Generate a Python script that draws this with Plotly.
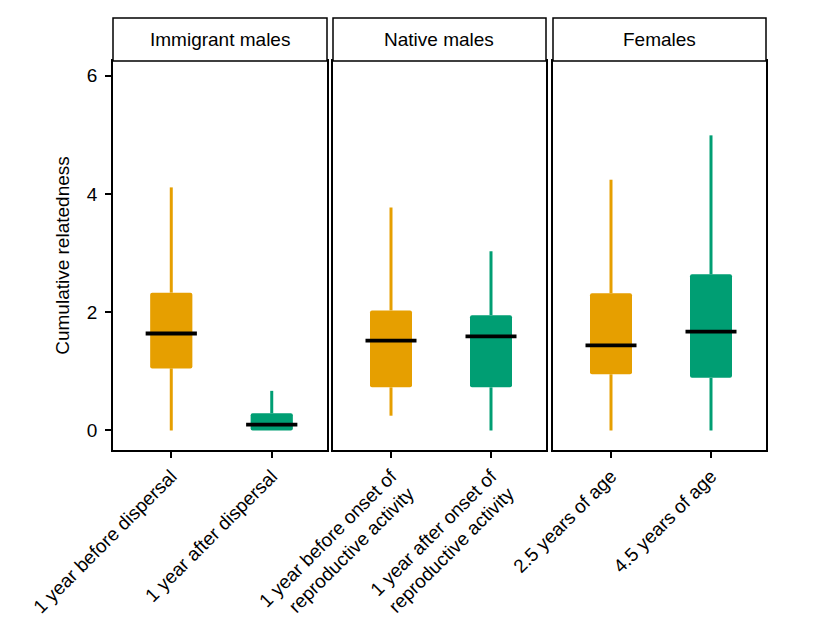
import plotly.graph_objects as go

panels = ["Immigrant males", "Native males", "Females"]
categories = [
    ["1 year before dispersal", "1 year after dispersal"],
    ["1 year before onset of<br>reproductive activity", "1 year after onset of<br>reproductive activity"],
    ["2.5 years of age", "4.5 years of age"],
]
lower = [[0.0, 0.0], [0.25, 0.0], [0.0, 0.0]]
q1 = [[1.05, 0.0], [0.73, 0.73], [0.95, 0.89]]
median = [[1.64, 0.10], [1.52, 1.59], [1.44, 1.67]]
q3 = [[2.33, 0.29], [2.03, 1.95], [2.32, 2.64]]
upper = [[4.11, 0.67], [3.77, 3.03], [4.24, 4.99]]
colors = ["#E69F00", "#009E73"]
y_ticks = [0, 2, 4, 6]

W, H = 826, 634
OFF = 8  # page body margin in the browser
FONT = "Liberation Sans, Arial, sans-serif"
FS = 19
box_w = 0.42
med_half = 0.255

panel_px = [(113, 327), (333, 546), (553, 766)]
plot_top, plot_bot, strip_top = 61, 450, 18


def px_x(v):
    return (v - OFF) / W


def px_y(v):
    return 1 - (v - OFF) / H


fig = go.Figure()
for p in range(3):
    ax = "" if p == 0 else str(p + 1)
    xref, yref = "x" + ax, "y" + ax
    for j in range(2):
        pos = j + 1
        c = colors[j]
        # whiskers
        fig.add_trace(go.Scatter(
            x=[pos, pos, None, pos, pos],
            y=[lower[p][j], q1[p][j], None, q3[p][j], upper[p][j]],
            mode="lines", line=dict(color=c, width=3),
            xaxis=xref, yaxis=yref, showlegend=False, hoverinfo="skip"))
        # box
        fig.add_trace(go.Bar(
            x=[pos], y=[q3[p][j] - q1[p][j]], base=[q1[p][j]], width=box_w,
            marker=dict(color=c, line=dict(width=0), cornerradius=2),
            xaxis=xref, yaxis=yref, showlegend=False, hoverinfo="skip"))
        # median
        fig.add_trace(go.Scatter(
            x=[pos - med_half, pos + med_half],
            y=[median[p][j], median[p][j]],
            mode="lines", line=dict(color="black", width=3.8),
            xaxis=xref, yaxis=yref, showlegend=False, hoverinfo="skip"))

layout = dict(
    width=W, height=H,
    margin=dict(l=0, r=0, t=0, b=0, autoexpand=False),
    paper_bgcolor="white", plot_bgcolor="white",
    barmode="overlay",
    font=dict(family=FONT, size=FS, color="black"),
    showlegend=False,
)
shapes = []
annotations = []
ydom = [px_y(plot_bot), px_y(plot_top)]
for p in range(3):
    ax = "" if p == 0 else str(p + 1)
    x0, x1 = panel_px[p]
    layout["xaxis" + ax] = dict(
        domain=[px_x(x0), px_x(x1)], range=[0.42, 2.55],
        tickvals=[1, 2], ticktext=categories[p], tickangle=-45,
        ticks="outside", ticklen=6, tickwidth=1.5, tickcolor="black",
        showline=True, linecolor="black", linewidth=1.5, mirror=True,
        showgrid=False, zeroline=False, anchor="y" + ax, fixedrange=True,
        automargin=False,
        tickfont=dict(family=FONT, size=FS, color="black"),
    )
    yd = dict(
        domain=ydom, range=[-0.33, 6.247],
        showline=True, linecolor="black", linewidth=1.5, mirror=True,
        showgrid=False, zeroline=False, anchor="x" + ax, fixedrange=True,
        automargin=False,
    )
    if p == 0:
        yd.update(tickvals=y_ticks, ticks="outside", ticklen=6, tickwidth=1.5,
                  tickcolor="black", ticklabelstandoff=4,
                  tickfont=dict(family=FONT, size=FS, color="black"),
                  title=dict(text="Cumulative relatedness", standoff=12,
                             font=dict(family=FONT, size=FS, color="black")))
    else:
        yd.update(showticklabels=False, ticks="")
    layout["yaxis" + ax] = yd
    shapes.append(dict(type="rect", xref="paper", yref="paper",
                       x0=px_x(x0), x1=px_x(x1), y0=px_y(plot_top), y1=px_y(strip_top),
                       line=dict(color="black", width=1.5), fillcolor="white"))
    annotations.append(dict(text=panels[p], xref="paper", yref="paper",
                            x=px_x((x0 + x1) / 2), y=px_y((plot_top + strip_top) / 2),
                            showarrow=False, xanchor="center", yanchor="middle",
                            font=dict(family=FONT, size=FS, color="black")))
layout["shapes"] = shapes
layout["annotations"] = annotations
fig.update_layout(**layout)
fig.write_html("out.html")
